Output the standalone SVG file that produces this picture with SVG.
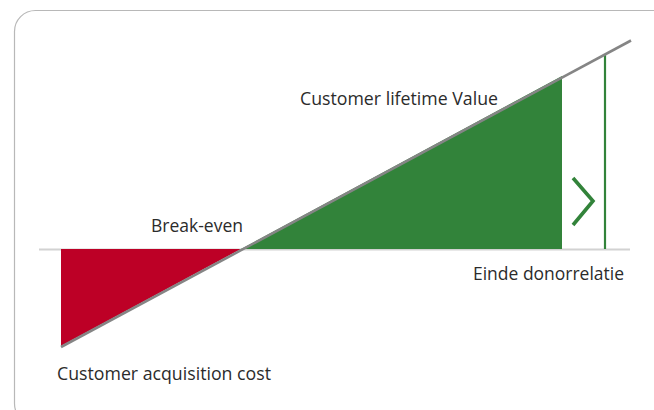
<svg xmlns="http://www.w3.org/2000/svg" width="654" height="410" viewBox="0 0 654 410">
  <style>
    .frame { fill: none; stroke: #b8b8b8; stroke-width: 1.2; }
    .axis { stroke: #d2d2d2; stroke-width: 2; }
    .trend { stroke: #858585; stroke-width: 2.6; stroke-linecap: butt; }
    .loss { fill: #bd0026; }
    .gain { fill: #32833a; }
    .mark { stroke: #32833a; fill: none; }
    .lbl { font-family: "Open Sans", Lato, "Liberation Sans", sans-serif; font-weight: 400; font-size: 18.5px; fill: #2b2b2b; }
  </style>
  <rect width="654" height="410" fill="#ffffff"/>
  <rect class="frame" x="14.5" y="10.5" width="700" height="414" rx="21"/>

  <!-- baseline (zero axis) -->
  <line class="axis" x1="39" y1="249.5" x2="630" y2="249.5"/>

  <g id="acquisition-cost">
    <polygon class="loss" points="61,249 241,249 61,346"/>
    <text class="lbl" x="57" y="380" textLength="214" lengthAdjust="spacingAndGlyphs">Customer acquisition cost</text>
  </g>

  <g id="lifetime-value">
    <polygon class="gain" points="241,249 562,249 562,76"/>
    <text class="lbl" x="300" y="105" textLength="198" lengthAdjust="spacingAndGlyphs">Customer lifetime Value</text>
  </g>

  <g id="break-even">
    <text class="lbl" x="151" y="232" textLength="92" lengthAdjust="spacingAndGlyphs">Break-even</text>
  </g>

  <g id="end-of-relation">
    <line class="mark" x1="605" y1="55" x2="605" y2="249" stroke-width="2.2"/>
    <polyline class="mark" points="573,178 593,201 573,225" stroke-width="3.6" stroke-linecap="butt" stroke-linejoin="miter"/>
    <text class="lbl" x="473" y="280" textLength="151" lengthAdjust="spacingAndGlyphs">Einde donorrelatie</text>
  </g>

  <g id="connectors">
    <line class="trend" x1="61" y1="347" x2="631" y2="40.5"/>
  </g>
</svg>
